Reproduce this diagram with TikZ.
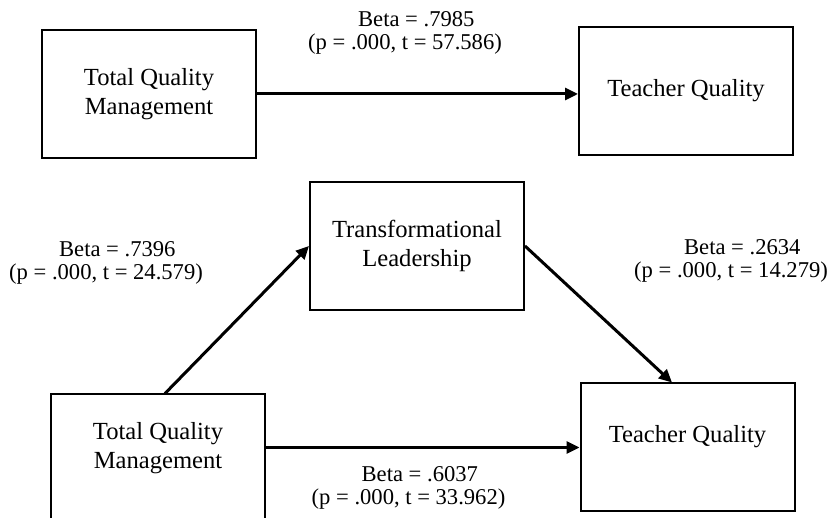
\documentclass[tikz,border=0pt]{standalone}
\usepackage{fontspec}
\setmainfont{Liberation Serif}
\usetikzlibrary{arrows.meta, calc}

\tikzset{
  box/.style={draw, line width=1pt, minimum width=107pt, minimum height=64pt,
    align=center, inner sep=0pt, font=\fontsize{12.3}{14.5}\selectfont},
  boxtext/.style={align=center, inner sep=0pt, font=\fontsize{12.3}{14.5}\selectfont},
  link/.style={line width=1.5pt, -{Triangle[length=6.5pt, width=6pt]}},
  beta/.style={align=center, inner sep=0pt, font=\fontsize{11.3}{11.5}\selectfont}
}

\begin{document}
\begin{tikzpicture}[x=0.5pt, y=0.5pt]
    \useasboundingbox (0,0) rectangle (834,518);

    % Direct effect
    \node[box] (tqmA) at (149,424) {Total Quality\\Management};
    \node[box] (tqA) at (686,427) {Teacher Quality};
    \draw[link] (tqmA.east) -- (tqmA.east -| tqA.west);
    \node[beta] (betaA) at (405,485) {\hspace*{1em}Beta = .7985\\(p = .000, t = 57.586)};

    % Mediation model
    \node[box] (tl) at (417,272) {Transformational\\Leadership};
    \node[box] (tqmB) at (158,59.5) {};
    \node[boxtext] (tqmBtext) at ($(tqmB.center)+(0,10)$) {Total Quality\\Management};
    \node[box] (tqB) at (687.5,70.5) {};
    \node[boxtext] (tqBtext) at ($(tqB.center)+(0,10.5)$) {Teacher Quality};

    % Paths
    \draw[link] ($(tqmB.north)+(7,0)$) -- (tl.west);
    \draw[link] (tl.east) -- ($(tqB.north)+(-15.5,0)$);
    \draw[link] (tqmB.east |- tqB.west) -- (tqB.west);

    % Coefficients
    \node[beta] (betaB) at (106,255) {\hspace*{1em}Beta = .7396\\(p = .000, t = 24.579)};
    \node[beta] (betaC) at (731,257.5) {\hspace*{1em}Beta = .2634\\(p = .000, t = 14.279)};
    \node[beta] (betaD) at (408.5,30) {\hspace*{1em}Beta = .6037\\(p = .000, t = 33.962)};
\end{tikzpicture}
\end{document}
